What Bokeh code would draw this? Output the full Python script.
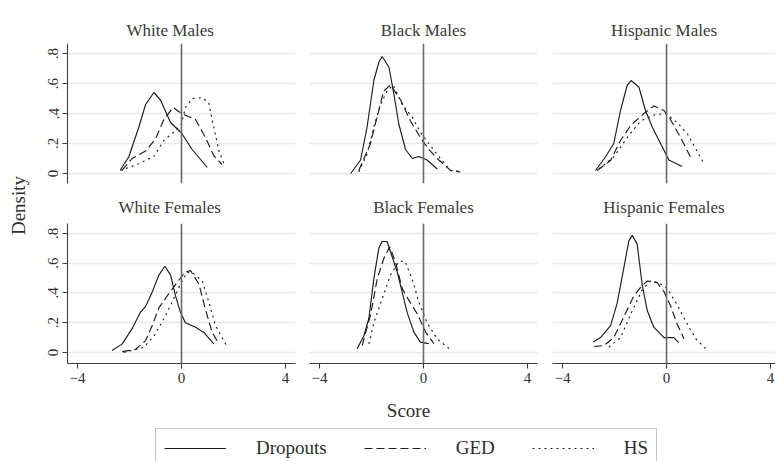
import math
from bokeh.plotting import figure
from bokeh.layouts import row, column
from bokeh.models import Range1d, FixedTicker, Span, Label, Legend, LegendItem, Title
from bokeh.embed import file_html
from bokeh.resources import INLINE

# ---------------- data ----------------
panel_titles = ["White Males", "Black Males", "Hispanic Males",
                "White Females", "Black Females", "Hispanic Females"]
series_names = ["Dropouts", "GED", "HS"]
x_ticks = [-4, 0, 4]
x_tick_labels = ["\u22124", "0", "4"]
y_ticks = [0, 0.2, 0.4, 0.6, 0.8]
y_tick_labels = ["0", ".2", ".4", ".6", ".8"]
x_title = "Score"
y_title = "Density"

wm_drop_x = [-2.35, -2.03, -1.64, -1.38, -1.06, -0.81, -0.42, 0.0, 0.41, 0.99]
wm_drop_y = [0.025, 0.11, 0.31, 0.46, 0.54, 0.49, 0.34, 0.27, 0.16, 0.04]
wm_ged_x = [-2.29, -1.9, -1.38, -1.0, -0.68, -0.32, 0.0, 0.54, 0.92, 1.24, 1.56]
wm_ged_y = [0.02, 0.10, 0.15, 0.23, 0.36, 0.44, 0.40, 0.36, 0.24, 0.12, 0.06]
wm_hs_x = [-2.35, -1.64, -1.06, -0.68, -0.3, 0.0, 0.15, 0.41, 0.8, 1.05, 1.24, 1.44, 1.67]
wm_hs_y = [0.02, 0.065, 0.115, 0.22, 0.275, 0.33, 0.44, 0.50, 0.505, 0.47, 0.31, 0.15, 0.05]

bm_drop_x = [-2.8, -2.42, -2.17, -1.91, -1.72, -1.59, -1.33, -1.14, -0.95, -0.69, -0.43, -0.18, 0.14, 0.53]
bm_drop_y = [0.0, 0.09, 0.31, 0.62, 0.74, 0.78, 0.71, 0.53, 0.33, 0.16, 0.10, 0.113, 0.09, 0.03]
bm_ged_x = [-2.49, -2.04, -1.78, -1.53, -1.27, -0.88, -0.5, -0.12, 0.2, 0.59, 1.04, 1.42]
bm_ged_y = [0.02, 0.2, 0.38, 0.55, 0.59, 0.49, 0.35, 0.24, 0.16, 0.09, 0.02, 0.01]
bm_hs_x = [-2.49, -2.17, -1.91, -1.65, -1.4, -1.17, -0.82, -0.43, -0.12, 0.2, 0.65, 1.04, 1.42]
bm_hs_y = [0.01, 0.13, 0.31, 0.46, 0.55, 0.59, 0.46, 0.375, 0.275, 0.2, 0.1, 0.02, 0.015]

hm_drop_x = [-2.73, -2.35, -2.03, -1.77, -1.51, -1.36, -1.06, -0.81, -0.55, -0.23, 0.09, 0.6]
hm_drop_y = [0.02, 0.11, 0.2, 0.42, 0.59, 0.62, 0.575, 0.42, 0.31, 0.2, 0.09, 0.047]
hm_ged_x = [-2.67, -2.15, -1.77, -1.38, -0.87, -0.49, -0.1, 0.15, 0.54, 0.92]
hm_ged_y = [0.02, 0.087, 0.22, 0.32, 0.4, 0.45, 0.42, 0.36, 0.24, 0.11]
hm_hs_x = [-2.6, -2.03, -1.51, -1.0, -0.49, -0.04, 0.41, 0.8, 1.12, 1.44]
hm_hs_y = [0.03, 0.11, 0.24, 0.35, 0.39, 0.40, 0.34, 0.265, 0.165, 0.065]

wf_drop_x = [-2.67, -2.28, -1.9, -1.58, -1.38, -1.13, -0.87, -0.64, -0.42, -0.23, -0.04, 0.15, 0.54, 0.86, 1.24]
wf_drop_y = [0.013, 0.058, 0.16, 0.27, 0.31, 0.405, 0.52, 0.58, 0.52, 0.38, 0.27, 0.2, 0.17, 0.135, 0.058]
wf_ged_x = [-2.28, -1.77, -1.38, -1.13, -0.87, -0.55, -0.17, 0.13, 0.35, 0.67, 0.92, 1.18, 1.44]
wf_ged_y = [0.006, 0.02, 0.08, 0.18, 0.30, 0.38, 0.47, 0.54, 0.55, 0.46, 0.29, 0.135, 0.058]
wf_hs_x = [-2.22, -1.45, -1.06, -0.68, -0.3, -0.04, 0.22, 0.47, 0.8, 1.05, 1.31, 1.76]
wf_hs_y = [0.0, 0.035, 0.11, 0.225, 0.36, 0.46, 0.54, 0.53, 0.48, 0.34, 0.18, 0.035]

bf_drop_x = [-2.55, -2.29, -2.1, -1.91, -1.72, -1.59, -1.4, -1.2, -1.01, -0.82, -0.63, -0.37, -0.12, 0.2]
bf_drop_y = [0.025, 0.114, 0.23, 0.495, 0.70, 0.746, 0.746, 0.64, 0.54, 0.405, 0.27, 0.137, 0.07, 0.06]
bf_ged_x = [-2.36, -2.04, -1.78, -1.53, -1.3, -1.08, -0.82, -0.56, -0.24, 0.08, 0.4]
bf_ged_y = [0.047, 0.25, 0.495, 0.63, 0.71, 0.61, 0.43, 0.35, 0.26, 0.137, 0.06]
bf_hs_x = [-2.1, -1.91, -1.59, -1.27, -0.95, -0.72, -0.44, -0.18, 0.14, 0.53, 1.04]
bf_hs_y = [0.058, 0.2, 0.36, 0.52, 0.61, 0.615, 0.495, 0.34, 0.2, 0.09, 0.02]

hf_drop_x = [-2.82, -2.54, -2.15, -1.9, -1.64, -1.45, -1.32, -1.13, -0.94, -0.74, -0.49, -0.1, 0.28, 0.47]
hf_drop_y = [0.07, 0.10, 0.18, 0.33, 0.57, 0.75, 0.787, 0.73, 0.46, 0.28, 0.17, 0.10, 0.10, 0.066]
hf_ged_x = [-2.79, -2.41, -2.03, -1.64, -1.26, -0.94, -0.74, -0.36, -0.1, 0.15, 0.41, 0.67]
hf_ged_y = [0.04, 0.047, 0.10, 0.24, 0.38, 0.45, 0.48, 0.47, 0.41, 0.316, 0.19, 0.093]
hf_hs_x = [-2.22, -1.77, -1.32, -0.94, -0.62, -0.3, 0.03, 0.41, 0.8, 1.12, 1.5]
hf_hs_y = [0.036, 0.10, 0.28, 0.42, 0.48, 0.47, 0.43, 0.32, 0.19, 0.093, 0.027]

panel_data = [
    [(wm_drop_x, wm_drop_y), (wm_ged_x, wm_ged_y), (wm_hs_x, wm_hs_y)],
    [(bm_drop_x, bm_drop_y), (bm_ged_x, bm_ged_y), (bm_hs_x, bm_hs_y)],
    [(hm_drop_x, hm_drop_y), (hm_ged_x, hm_ged_y), (hm_hs_x, hm_hs_y)],
    [(wf_drop_x, wf_drop_y), (wf_ged_x, wf_ged_y), (wf_hs_x, wf_hs_y)],
    [(bf_drop_x, bf_drop_y), (bf_ged_x, bf_ged_y), (bf_hs_x, bf_hs_y)],
    [(hf_drop_x, hf_drop_y), (hf_ged_x, hf_ged_y), (hf_hs_x, hf_hs_y)],
]

# ---------------- styles ----------------
FONT = "Liberation Serif"
TXT = "#2e2e2e"
TITLE_TXT = "#3a3a3a"
CURVE = "#1c1c1c"
AXIS = "#3c3c3c"
GRID = "#e9e9e9"
ZERO = "#6a6a6a"
DASHES = ["solid", "8 4", "2 4"]

cols = [  # width, min_border_left, min_border_right, x range, title placement
    dict(w=269, l=34, r=7, xr=(-4.385, 4.385), align="left"),
    dict(w=242, l=7, r=7, xr=(-4.385, 4.385), align="center"),
    dict(w=231, l=8, r=0, xr=(-4.385, 4.19), align="center"),
]
title_offsets = [59, 0, 0, 51, 0, 0]
rows_cfg = [
    dict(h=187, t=43, b=4, yr=(-0.0667, 0.8667), standoff=8),
    dict(h=211, t=36, b=35, yr=(-0.074, 0.867), standoff=13),
]


def make_panel(idx):
    ri, ci = divmod(idx, 3)
    c, rc = cols[ci], rows_cfg[ri]
    has_x = ri == 1
    has_y = ci == 0
    ttl = Title(text=panel_titles[idx], align=c["align"], offset=title_offsets[idx],
                standoff=rc["standoff"], text_font=FONT, text_font_size="17px",
                text_font_style="normal", text_color=TITLE_TXT)
    p = figure(width=c["w"], height=rc["h"], title=ttl,
               x_range=Range1d(*c["xr"]), y_range=Range1d(*rc["yr"]),
               toolbar_location=None, output_backend="svg",
               x_axis_location="below" if has_x else None,
               y_axis_location="left" if has_y else None,
               min_border_left=c["l"], min_border_right=c["r"],
               min_border_top=rc["t"], min_border_bottom=rc["b"],
               outline_line_color=None, background_fill_color="white",
               border_fill_color="white")

    p.xgrid.visible = False
    p.ygrid.ticker = FixedTicker(ticks=y_ticks)
    p.ygrid.grid_line_color = GRID
    p.ygrid.grid_line_width = 1.4

    def style_axis(ax):
        ax.axis_line_color = AXIS
        ax.axis_line_width = 1.1
        ax.major_tick_line_color = AXIS
        ax.major_tick_line_width = 1.1
        ax.major_tick_in = 0
        ax.major_tick_out = 5
        ax.minor_tick_line_color = None
        ax.major_label_text_font = FONT
        ax.major_label_text_font_size = "15px"
        ax.major_label_text_color = TXT
        ax.major_label_standoff = 4

    if has_x:
        ax = p.xaxis[0]
        style_axis(ax)
        ax.ticker = FixedTicker(ticks=x_ticks)
        ax.major_label_overrides = dict(zip(x_ticks, x_tick_labels))
    if has_y:
        ay = p.yaxis[0]
        style_axis(ay)
        ay.ticker = FixedTicker(ticks=y_ticks)
        ay.major_label_overrides = dict(zip(y_ticks, y_tick_labels))
        ay.major_label_orientation = "vertical"

    p.add_layout(Span(location=0, dimension="height", line_color=ZERO, line_width=1.6))

    for (xs, ys), dash in zip(panel_data[idx], DASHES):
        p.line(xs, ys, line_color=CURVE, line_width=1.15, line_dash=dash)
    return p


panels = [make_panel(i) for i in range(6)]

# "Density" strip
dfig = figure(width=33, height=398, x_range=Range1d(0, 1), y_range=Range1d(0, 1),
              toolbar_location=None, output_backend="svg",
              x_axis_location=None, y_axis_location=None, min_border=0,
              outline_line_color=None)
dfig.grid.visible = False
dfig.add_layout(Label(x=18, y=193, x_units="screen", y_units="screen", text=y_title,
                      angle=math.pi / 2, text_align="center", text_baseline="middle",
                      text_font=FONT, text_font_size="19px", text_color=TXT))

# bottom strip: axis title and legend
bfig = figure(width=775, height=63, x_range=Range1d(0, 1), y_range=Range1d(0, 1),
              toolbar_location=None, output_backend="svg",
              x_axis_location=None, y_axis_location=None, min_border=0,
              outline_line_color=None)
bfig.grid.visible = False
bfig.add_layout(Label(x=408, y=51, x_units="screen", y_units="screen", text=x_title,
                      text_align="center", text_baseline="middle",
                      text_font=FONT, text_font_size="19px", text_color=TXT))
items = []
for name, dash in zip(series_names, DASHES):
    r = bfig.line(x=[float("nan")], y=[float("nan")], line_color=CURVE,
                  line_width=1.15, line_dash=dash)
    items.append(LegendItem(label=name, renderers=[r]))
legend = Legend(items=items, orientation="horizontal", location=(155, -7),
                glyph_width=62, glyph_height=20, label_standoff=30, spacing=37,
                padding=8, border_line_color="#8c8c8c", border_line_width=1,
                background_fill_color="white", background_fill_alpha=1,
                label_text_font=FONT, label_text_font_size="19px",
                label_text_color=TXT)
bfig.add_layout(legend)

layout = column(row(dfig, column(row(*panels[:3]), row(*panels[3:]))), bfig)

open("out.html", "w").write(file_html(layout, INLINE))
